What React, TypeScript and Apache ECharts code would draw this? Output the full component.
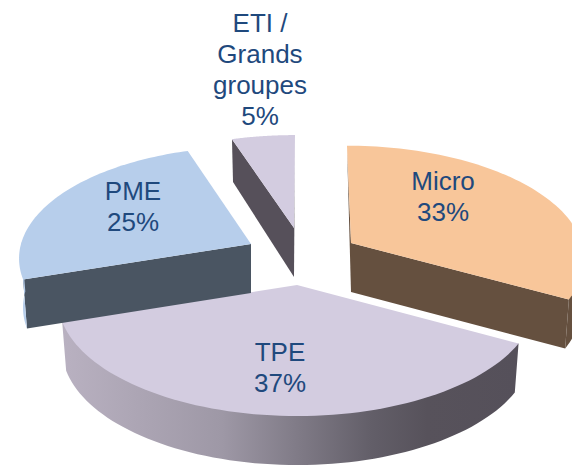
import React, { useEffect, useRef } from "react";
import * as echarts from "echarts";

const categories = ["Micro", "TPE", "PME", "ETI /\nGrands\ngroupes"];
const shares = [33, 37, 25, 5];

// Slice geometry (exploded apex, projected radii), not data
const apexX = [351, 297, 251, 294];
const apexY = [243, 285, 244, 228];
const radiusX = [231, 237, 230, 229];
const radiusY = [110, 114, 110, 105];
const skewX = [4, 0, 0, -1];
const labelX = [443, 280, 133, 260];
const labelY = [196.5, 367.5, 206.5, 69.5];

const topColors = ["#F8C69A", "#D3CCE0", "#B7CEEB", "#D3CCE0"];
const faceColors = ["#65503F", "#55505A", "#4A5562", "#56505A"];
const wallColors = ["#65503F", "TPE", "#B7CEEB", "#D3CCE0"];

const PERSPECTIVE = 0.13;
const DEPTH = 49;
const TAPER = 0.983;
const WALL_INSET = 0.98;

function renderSlice(params: any, api: any) {
  const i = params.dataIndex;
  const total = shares.reduce((a, b) => a + b, 0);
  const before = shares.slice(0, i).reduce((a, b) => a + b, 0);
  const a0 = (before / total) * Math.PI * 2;
  const a1 = ((before + api.value(0)) / total) * Math.PI * 2;
  const cx = apexX[i];
  const cy = apexY[i];

  const project = (angle: number) => {
    const u = Math.sin(angle);
    const v = -Math.cos(angle);
    const f = 1 / (1 - PERSPECTIVE * v);
    return {
      x: cx + radiusX[i] * u * f + skewX[i] * v,
      y: cy + radiusY[i] * v * f,
      v,
    };
  };
  const lower = (p: { x: number; y: number; v: number }) => [
    cx + (p.x - cx) * TAPER,
    p.y + DEPTH * (1 + 0.13 * Math.min(p.v, 0)),
  ];

  const steps = 72;
  const arc = [];
  for (let s = 0; s <= steps; s++) arc.push(project(a0 + ((a1 - a0) * s) / steps));
  const arcTop = arc.map((p) => [p.x, p.y]);
  const front = arc.filter((p) => p.v > -0.02);
  const apexBottom = [cx, cy + DEPTH];
  const mid = project((a0 + a1) / 2);

  const wallFill =
    wallColors[i] === "TPE"
      ? new echarts.graphic.LinearGradient(0, 0, 1, 0, [
          { offset: 0, color: "#B9B1C1" },
          { offset: 0.35, color: "#9E98A6" },
          { offset: 0.68, color: "#625E68" },
          { offset: 0.8, color: "#57525B" },
          { offset: 1, color: "#55505A" },
        ])
      : wallColors[i];

  // A cut face shows only when moving down leaves the slice's top surface.
  const faceVisible = (p: { x: number; y: number }) => {
    const ex = p.x - cx;
    const ey = p.y - cy;
    const inward = ex * (mid.y - cy) - ey * (mid.x - cx);
    return inward * ex < 0;
  };
  const radialFace = (p: { x: number; y: number; v: number }, angle: number) => {
    const points =
      Math.abs(Math.sin(angle)) < 0.01
        ? [[p.x, p.y], [cx, cy], apexBottom]
        : [[p.x, p.y], [cx, cy], apexBottom, lower(p)];
    return { type: "polygon", shape: { points }, style: { fill: faceColors[i] } };
  };

  const children: any[] = [];
  const last = arc[arc.length - 1];
  if (faceVisible(last)) children.push(radialFace(last, a1));
  if (faceVisible(arc[0])) children.push(radialFace(arc[0], a0));
  if (front.length > 1) {
    children.push({
      type: "polygon",
      shape: {
        points: [
          ...front.map((p, k) =>
            k === 0 || k === front.length - 1
              ? [p.x, p.y]
              : [cx + (p.x - cx) * WALL_INSET, cy + (p.y - cy) * WALL_INSET]
          ),
          ...front.map(lower).reverse(),
        ],
      },
      style: { fill: wallFill },
    });
  }
  children.push(
    {
      type: "polygon",
      shape: { points: [[cx, cy], ...arcTop] },
      style: { fill: topColors[i] },
    },
    {
      type: "text",
      style: {
        text: `${categories[i]}\n${api.value(0)}%`,
        x: labelX[i],
        y: labelY[i],
        align: "center",
        verticalAlign: "middle",
        fontFamily: "Liberation Sans, Arial, sans-serif",
        fontSize: 26,
        lineHeight: 31,
        fill: "#1F497D",
      },
    }
  );
  return { type: "group", children };
}

export default function App() {
  const ref = useRef<HTMLDivElement>(null);
  useEffect(() => {
    const chart = echarts.init(ref.current!, null, { renderer: "svg" });
    chart.setOption({
      animation: false,
      backgroundColor: "#ffffff",
      series: [
        {
          type: "custom",
          coordinateSystem: "none",
          renderItem: renderSlice,
          silent: true,
          clip: false,
          data: categories.map((name, i) => ({ name, value: [shares[i]] })),
        },
      ],
    });
    return () => chart.dispose();
  }, []);
  return (
    <div
      ref={ref}
      style={{ position: "absolute", left: 0, top: 0, width: 572, height: 466 }}
    />
  );
}
